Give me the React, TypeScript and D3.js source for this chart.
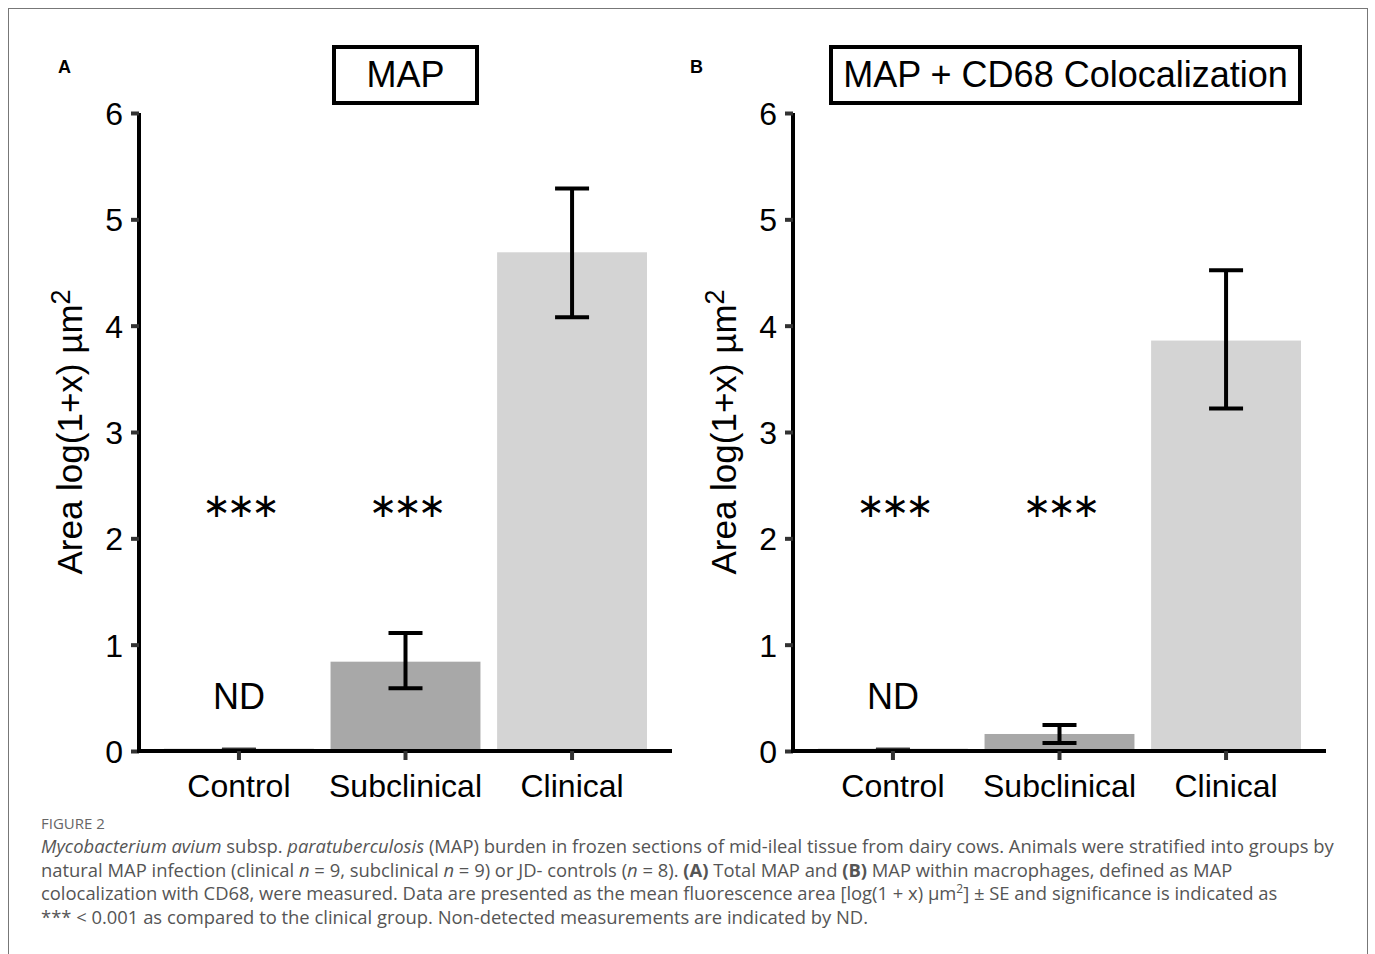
import React, { useEffect, useRef } from 'react';
import * as d3 from 'd3';

const groups = ['Control', 'Subclinical', 'Clinical'];
const mapMean = [0.02, 0.84, 4.69];
const mapLow = [0.02, 0.59, 4.08];
const mapHigh = [0.02, 1.11, 5.29];
const cd68Mean = [0.02, 0.16, 3.86];
const cd68Low = [0.02, 0.075, 3.22];
const cd68High = [0.02, 0.245, 4.52];
const barColors = ['#555555', '#a8a8a8', '#d4d4d4'];
const yTicks = [0, 1, 2, 3, 4, 5, 6];
const stars = ['\u2217\u2217\u2217', '\u2217\u2217\u2217', null];
const ndLabels = ['ND', null, null];

const captionLines = [
  [{ t: 'Mycobacterium avium', i: true }, { t: ' subsp. ' }, { t: 'paratuberculosis', i: true }, { t: ' (MAP) burden in frozen sections of mid-ileal tissue from dairy cows. Animals were stratified into groups by' }],
  [{ t: 'natural MAP infection (clinical ' }, { t: 'n', i: true }, { t: ' = 9, subclinical ' }, { t: 'n', i: true }, { t: ' = 9) or JD- controls (' }, { t: 'n', i: true }, { t: ' = 8). ' }, { t: '(A)', b: true }, { t: ' Total MAP and ' }, { t: '(B)', b: true }, { t: ' MAP within macrophages, defined as MAP' }],
  [{ t: 'colocalization with CD68, were measured. Data are presented as the mean fluorescence area [log(1 + x) \u00b5m' }, { t: '2', sup: true }, { t: '] \u00b1 SE and significance is indicated as' }],
  [{ t: '*** < 0.001 as compared to the clinical group. Non-detected measurements are indicated by ND.' }],
];

const panels = [
  { letter: 'A', letterX: 58, title: 'MAP', left: 139, mean: mapMean, low: mapLow, high: mapHigh, box: [334, 477] },
  { letter: 'B', letterX: 690, title: 'MAP + CD68 Colocalization', left: 793, mean: cd68Mean, low: cd68Low, high: cd68High, box: [831, 1300] },
];

const App = () => {
  const svgRef = useRef<SVGSVGElement>(null);

  useEffect(() => {
    const svg = d3.select(svgRef.current);
    svg.selectAll('*').remove();
    const font = '"Liberation Sans", Arial, sans-serif';

    // outer frame
    svg.append('rect')
      .attr('x', 8.5).attr('y', 8.5).attr('width', 1359).attr('height', 960)
      .attr('fill', 'none').attr('stroke', '#777').attr('stroke-width', 1);

    const y = d3.scaleLinear().domain([0, 6]).range([751, 113]);

    panels.forEach(p => {
      const x = d3.scaleBand<string>()
        .domain(groups)
        .range([p.left, p.left + 533])
        .paddingInner(0.1)
        .paddingOuter(0.15);
      const g = svg.append('g');

      // panel letter
      g.append('text')
        .attr('x', p.letterX).attr('y', 73)
        .attr('font-family', font).attr('font-weight', 'bold').attr('font-size', 18)
        .text(p.letter);

      // title box
      g.append('rect')
        .attr('x', p.box[0]).attr('y', 47).attr('width', p.box[1] - p.box[0]).attr('height', 56)
        .attr('fill', 'none').attr('stroke', '#000').attr('stroke-width', 4);
      g.append('text')
        .attr('x', (p.box[0] + p.box[1]) / 2).attr('y', 87)
        .attr('text-anchor', 'middle')
        .attr('font-family', font).attr('font-size', 36)
        .text(p.title);

      // bars
      g.selectAll('rect.bar')
        .data(groups)
        .enter()
        .append('rect')
        .attr('class', 'bar')
        .attr('x', d => x(d)!)
        .attr('width', x.bandwidth())
        .attr('y', (d, i) => y(p.mean[i]))
        .attr('height', (d, i) => y(0) - y(p.mean[i]))
        .attr('fill', (d, i) => barColors[i]);

      // error bars
      groups.forEach((d, i) => {
        const lo = p.low[i];
        const hi = p.high[i];
        const cx = x(d)! + x.bandwidth() / 2;
        if (hi - lo > 0) {
          g.append('line').attr('x1', cx).attr('x2', cx).attr('y1', y(lo)).attr('y2', y(hi))
            .attr('stroke', '#000').attr('stroke-width', 4);
        }
        const w = hi - lo > 0 ? 4 : 2;
        [lo, hi].forEach(v => {
          g.append('line').attr('x1', cx - 17).attr('x2', cx + 17).attr('y1', y(v)).attr('y2', y(v))
            .attr('stroke', hi - lo > 0 ? '#000' : '#333').attr('stroke-width', w);
        });
      });

      // significance and ND labels
      groups.forEach((d, i) => {
        const cx = x(d)! + x.bandwidth() / 2;
        if (stars[i]) {
          g.append('text')
            .attr('x', cx).attr('y', 505)
            .attr('dy', '0.35em')
            .attr('text-anchor', 'middle')
            .attr('font-family', '"DejaVu Sans", sans-serif').attr('font-size', 34)
            .attr('letter-spacing', -4)
            .text(stars[i]!);
        }
        if (ndLabels[i]) {
          g.append('text')
            .attr('x', cx).attr('y', 709)
            .attr('text-anchor', 'middle')
            .attr('font-family', font).attr('font-size', 36)
            .text(ndLabels[i]!);
        }
      });

      // y axis
      const yAxis = g.append('g')
        .attr('transform', `translate(${p.left},0)`)
        .call(d3.axisLeft(y).tickValues(yTicks).tickFormat(d3.format('d')).tickSize(8).tickPadding(8));
      yAxis.select('.domain').attr('stroke', '#000').attr('stroke-width', 4).attr('d', `M0,${y(6)}V${y(0) + 2}`);
      yAxis.selectAll('.tick line').attr('stroke', '#333').attr('stroke-width', 4);
      yAxis.selectAll('.tick text')
        .attr('font-family', font).attr('font-size', 32).attr('fill', '#000').attr('dy', '0.36em');

      // x axis
      const xAxis = g.append('g')
        .attr('transform', `translate(0,${y(0)})`)
        .call(d3.axisBottom(x).tickSize(9).tickPadding(14));
      xAxis.select('.domain').attr('stroke', '#000').attr('stroke-width', 4).attr('d', `M${p.left - 2},0H${p.left + 533}`);
      xAxis.selectAll('.tick line').attr('stroke', '#333').attr('stroke-width', 4);
      xAxis.selectAll('.tick text')
        .attr('font-family', font).attr('font-size', 32).attr('fill', '#000');

      // y axis label
      const label = g.append('text')
        .attr('transform', `translate(${p.left - 57},${y(3.0)}) rotate(-90)`)
        .attr('text-anchor', 'middle')
        .attr('font-family', font).attr('font-size', 35);
      label.append('tspan').text('Area log(1+x) \u00b5m');
      label.append('tspan').attr('dy', -12).attr('font-size', 27).text('2');
    });

    // caption
    const capFont = '"Open Sans", "Noto Sans", sans-serif';
    svg.append('text')
      .attr('x', 41).attr('y', 829)
      .attr('font-family', capFont).attr('font-size', 15).attr('fill', '#666')
      .text('FIGURE 2');
    captionLines.forEach((line, li) => {
      const t = svg.append('text')
        .attr('x', 41).attr('y', 853 + li * 23.7)
        .attr('font-family', capFont).attr('font-size', 18.4).attr('fill', '#555');
      line.forEach((seg: any) => {
        const s = t.append('tspan').text(seg.t);
        if (seg.i) s.attr('font-style', 'italic');
        if (seg.b) s.attr('font-weight', 'bold');
        if (seg.sup) s.attr('font-size', 12).attr('dy', -7);
        else if (seg === line[line.length - 1] && line.some((q: any) => q.sup)) s.attr('dy', 7);
      });
    });
  }, []);

  return (
    <svg ref={svgRef} width={1375} height={954}
      style={{ position: 'absolute', left: 0, top: 0, background: '#fff' }} />
  );
};

export default App;
